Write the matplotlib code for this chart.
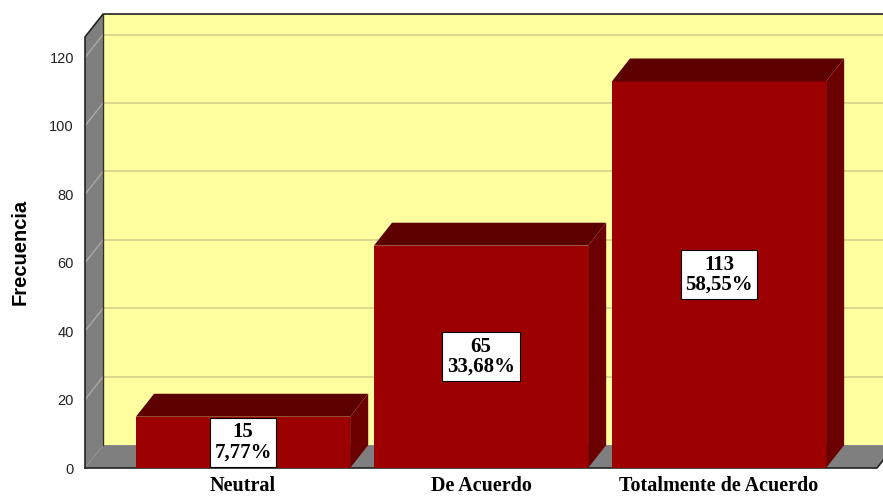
import matplotlib
matplotlib.use('Agg')
import matplotlib.pyplot as plt
from matplotlib.patches import Polygon

# 数据
categorias = ['Neutral', 'De Acuerdo', 'Totalmente de Acuerdo']
frecuencias = [15, 65, 113]
porcentajes = ['7,77%', '33,68%', '58,55%']
y_ticks = [0, 20, 40, 60, 80, 100, 120]

# estilo
c_pared = '#FFFFA0'
c_grid = '#D6CE8C'
c_gris = '#7F7F7F'
c_frente = '#9C0000'
c_techo = '#5C0000'
c_lado = '#6C0000'
DX, DY = 0.076, 6.7      # profundidad 3D en unidades de datos
ancho = 0.9
x0, x1 = -0.664, 2.664
y_top = 133
pared_top = 126

fig = plt.figure(figsize=(8.83, 4.97), dpi=100)
ax = fig.add_axes([85 / 883, 29 / 497, 792 / 883, 455 / 497])
ax.set_xlim(x0, x1)
ax.set_ylim(0, y_top)
for s in ax.spines.values():
    s.set_visible(False)
ax.patch.set_alpha(0)

# pared del fondo
ax.add_patch(Polygon([(x0 + DX, DY), (x1 + DX, DY), (x1 + DX, pared_top + DY), (x0 + DX, pared_top + DY)],
                     closed=True, fc=c_pared, ec='none', zorder=0, clip_on=False))
# pared izquierda
ax.add_patch(Polygon([(x0, 0), (x0 + DX, DY), (x0 + DX, pared_top + DY), (x0, pared_top)],
                     closed=True, fc=c_gris, ec='none', zorder=1, clip_on=False))
# suelo
ax.add_patch(Polygon([(x0, 0), (x1, 0), (x1 + DX, DY), (x0 + DX, DY)],
                     closed=True, fc=c_gris, ec='none', zorder=1, clip_on=False))

# lineas de cuadricula
for v in y_ticks[1:]:
    ax.plot([x0 + DX, x1 + DX], [v + DY, v + DY], color=c_grid, lw=1.2, zorder=0.5, clip_on=False)
    ax.plot([x0, x0 + DX], [v, v + DY], color='#A9A9A9', lw=1.0, zorder=1.5, clip_on=False)

# bordes
ax.plot([x0, x0, x0 + DX, x1 + DX], [0, pared_top, pared_top + DY, pared_top + DY],
        color='#222222', lw=1.2, zorder=2, clip_on=False)
ax.plot([x0 + DX, x0 + DX], [DY, pared_top + DY], color='#333333', lw=1.0, zorder=2, clip_on=False)
ax.plot([x0, x1, x1 + DX], [0, 0, DY], color='#222222', lw=1.2, zorder=2, clip_on=False)

# barras
x = list(range(len(categorias)))
barras = ax.bar(x, frecuencias, width=ancho, color=c_frente, zorder=4, clip_on=False)
for b in barras:
    bx0, bx1 = b.get_x(), b.get_x() + b.get_width()
    h = b.get_height()
    ax.add_patch(Polygon([(bx0, h), (bx1, h), (bx1 + DX, h + DY), (bx0 + DX, h + DY)],
                         closed=True, fc=c_techo, ec='none', zorder=4, clip_on=False))
    ax.add_patch(Polygon([(bx1, 0), (bx1, h), (bx1 + DX, h + DY), (bx1 + DX, DY)],
                         closed=True, fc=c_lado, ec='none', zorder=4, clip_on=False))

# etiquetas
for xi, f, p in zip(x, frecuencias, porcentajes):
    ax.text(xi, f / 2, f'{f}\n{p}', ha='center', va='center', family='Liberation Serif',
            fontweight='bold', fontsize=15, linespacing=1.0, zorder=6,
            bbox=dict(boxstyle='square,pad=0.22', fc='white', ec='black', lw=0.8))

ax.set_xticks(x)
ax.set_xticklabels(categorias, family='Liberation Serif', fontweight='bold', fontsize=14.5)
ax.set_yticks(y_ticks)
ax.set_yticklabels([str(v) for v in y_ticks], family='Liberation Sans', fontsize=10.5, color='#222222')
ax.tick_params(axis='both', length=0)
ax.tick_params(axis='x', pad=6)
ax.tick_params(axis='y', pad=8)

fig.text(20 / 883, 1 - 252 / 497, 'Frecuencia', rotation=90, ha='center', va='center',
         family='Liberation Sans', fontweight='bold', fontsize=14.5)

plt.savefig('out.png', dpi=100)
